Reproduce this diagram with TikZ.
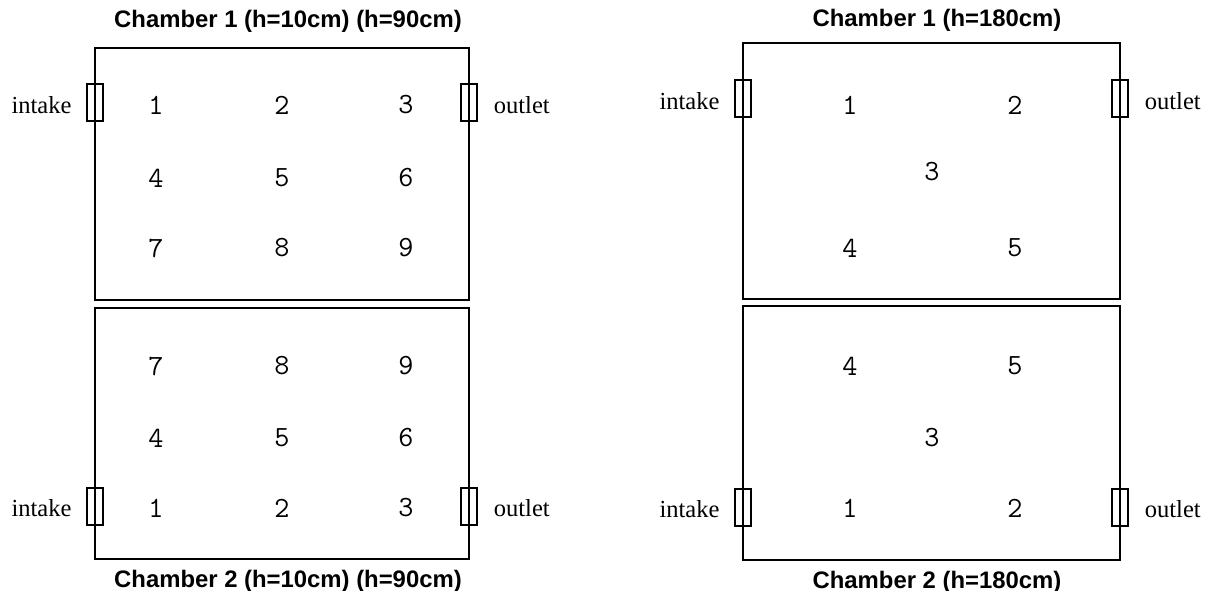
\documentclass[tikz,border=0pt]{standalone}
\usepackage{fontspec}
\setmainfont{Liberation Serif}
\newfontfamily\chfont{Liberation Sans}
\usetikzlibrary{positioning}
\tikzset{
  wall/.style={line width=1.2pt},
  port/.style={draw,line width=0.9pt,minimum width=12pt,minimum height=27.75pt,inner sep=0pt},
  pt/.style={font=\ttfamily\fontsize{22}{22}\selectfont,inner sep=0pt},
  lbl/.style={font=\fontsize{18.4}{20}\selectfont,inner sep=0pt},
  ttl/.style={font=\chfont\bfseries\fontsize{17.9}{20}\selectfont,inner sep=0pt},
}
\begin{document}
\begin{tikzpicture}[x=0.75pt,y=-0.75pt]
        \useasboundingbox (0,0) rectangle (1212,591);
        % left: h=10cm / h=90cm
        \coordinate (A) at (95,48);
        \coordinate (B) at (469,300);
        \coordinate (C) at (95,308);
        \coordinate (D) at (469,559);
        \draw[wall] (A) rectangle (B);
        \draw[wall] (C) rectangle (D);
        \node[ttl] (tA) at (288,21) {Chamber 1 (h=10cm) (h=90cm)};
        \node[ttl] (tC) at (288,581) {Chamber 2 (h=10cm) (h=90cm)};
        \node[port] (inA) at (95,102.5) {};
        \node[port] (outA) at (469,102.5) {};
        \node[port] (inC) at (95,506.5) {};
        \node[port] (outC) at (469,506.5) {};
        \node[lbl,left=11pt of inA,yshift=-2pt] (intakeA) {intake};
        \node[lbl,right=12pt of outA,yshift=-2pt] (outletA) {outlet};
        \node[lbl,left=11pt of inC,yshift=-1pt] (intakeC) {intake};
        \node[lbl,right=12pt of outC,yshift=-1pt] (outletC) {outlet};
        \node[pt] (a1) at (156,105) {1};
        \node[pt] (a2) at (282,105) {2};
        \node[pt] (a3) at (406,105) {3};
        \node[pt] (a4) at (156,178) {4};
        \node[pt] (a5) at (282,178) {5};
        \node[pt] (a6) at (406,178) {6};
        \node[pt] (a7) at (156,248) {7};
        \node[pt] (a8) at (282,248) {8};
        \node[pt] (a9) at (406,248) {9};
        \node[pt] (c7) at (156,366) {7};
        \node[pt] (c8) at (282,366) {8};
        \node[pt] (c9) at (406,366) {9};
        \node[pt] (c4) at (156,438) {4};
        \node[pt] (c5) at (282,438) {5};
        \node[pt] (c6) at (406,438) {6};
        \node[pt] (c1) at (156,508) {1};
        \node[pt] (c2) at (282,508) {2};
        \node[pt] (c3) at (406,508) {3};
        % right: h=180cm
        \coordinate (E) at (743,43);
        \coordinate (F) at (1120,299);
        \coordinate (G) at (743,306);
        \coordinate (H) at (1120,560);
        \draw[wall] (E) rectangle (F);
        \draw[wall] (G) rectangle (H);
        \node[ttl] (tE) at (937,20) {Chamber 1 (h=180cm)};
        \node[ttl] (tG) at (937,582) {Chamber 2 (h=180cm)};
        \node[port] (inE) at (743,98.5) {};
        \node[port] (outE) at (1120,98.5) {};
        \node[port] (inG) at (743,507.5) {};
        \node[port] (outG) at (1120,507.5) {};
        \node[lbl,left=11pt of inE,yshift=-2pt] (intakeE) {intake};
        \node[lbl,right=12pt of outE,yshift=-2pt] (outletE) {outlet};
        \node[lbl,left=11pt of inG,yshift=-1pt] (intakeG) {intake};
        \node[lbl,right=12pt of outG,yshift=-1pt] (outletG) {outlet};
        \node[pt] (e1) at (850,105) {1};
        \node[pt] (e2) at (1015,105) {2};
        \node[pt] (e3) at (932,172) {3};
        \node[pt] (e4) at (850,248) {4};
        \node[pt] (e5) at (1015,248) {5};
        \node[pt] (g4) at (850,366) {4};
        \node[pt] (g5) at (1015,366) {5};
        \node[pt] (g3) at (932,438) {3};
        \node[pt] (g1) at (850,508) {1};
        \node[pt] (g2) at (1015,508) {2};
    \end{tikzpicture}
\end{document}
